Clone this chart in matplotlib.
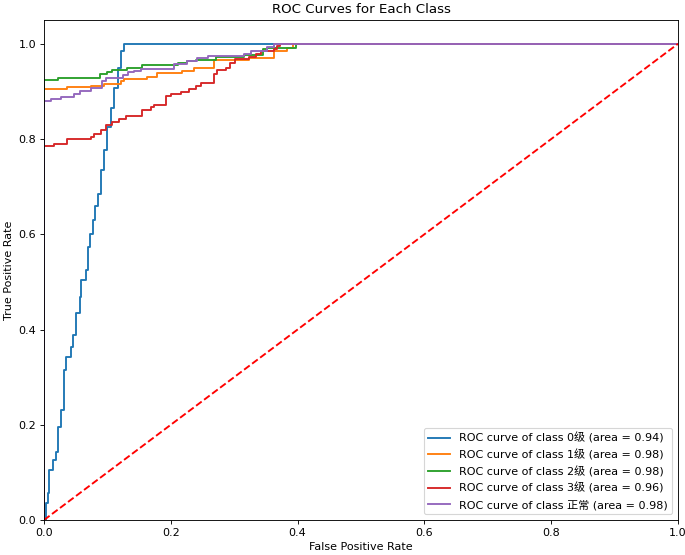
import matplotlib
matplotlib.use("Agg")
import matplotlib.pyplot as plt

plt.rcParams["font.family"] = ["DejaVu Sans", "Noto Sans CJK SC"]

class_names = ["0级", "1级", "2级", "3级", "正常"]
aucs = [0.94, 0.98, 0.98, 0.96, 0.98]
colors = ["#1f77b4", "#ff7f0e", "#2ca02c", "#d62728", "#9467bd"]

fpr0 = [0.0, 0.003, 0.006, 0.008, 0.014, 0.019, 0.022, 0.027, 0.032, 0.035, 0.043, 0.045, 0.050,
        0.056, 0.059, 0.066, 0.069, 0.073, 0.077, 0.081, 0.085, 0.090, 0.095, 0.100, 0.106, 0.111,
        0.116, 0.121, 0.126, 1.0]
tpr0 = [0.0, 0.036, 0.057, 0.105, 0.126, 0.143, 0.196, 0.230, 0.314, 0.342, 0.363, 0.388, 0.434,
        0.468, 0.503, 0.524, 0.573, 0.600, 0.629, 0.660, 0.685, 0.734, 0.776, 0.825, 0.866, 0.908,
        0.950, 0.985, 1.0, 1.0]

fpr1 = [0.0, 0.0, 0.037, 0.074, 0.095, 0.121, 0.126, 0.163, 0.179, 0.218, 0.237, 0.268, 0.323,
        0.362, 0.384, 0.392, 1.0]
tpr1 = [0.0, 0.905, 0.910, 0.912, 0.915, 0.922, 0.926, 0.931, 0.938, 0.943, 0.949, 0.966, 0.970,
        0.985, 0.992, 1.0, 1.0]

fpr2 = [0.0, 0.0, 0.022, 0.089, 0.100, 0.108, 0.131, 0.155, 0.211, 0.226, 0.239, 0.271, 0.315,
        0.346, 0.352, 0.397, 1.0]
tpr2 = [0.0, 0.925, 0.929, 0.936, 0.940, 0.945, 0.949, 0.955, 0.960, 0.964, 0.966, 0.973, 0.977,
        0.989, 0.991, 1.0, 1.0]

fpr3 = [0.0, 0.0, 0.016, 0.037, 0.074, 0.079, 0.090, 0.098, 0.108, 0.119, 0.129, 0.155, 0.169,
        0.174, 0.192, 0.200, 0.216, 0.229, 0.239, 0.247, 0.268, 0.273, 0.287, 0.294, 0.302, 0.323,
        0.334, 0.342, 0.363, 0.368, 0.373, 1.0]
tpr3 = [0.0, 0.785, 0.790, 0.800, 0.805, 0.811, 0.818, 0.830, 0.835, 0.842, 0.849, 0.860, 0.868,
        0.872, 0.890, 0.894, 0.899, 0.905, 0.912, 0.917, 0.936, 0.945, 0.950, 0.960, 0.968, 0.973,
        0.978, 0.984, 0.989, 0.996, 1.0, 1.0]

fpr4 = [0.0, 0.0, 0.011, 0.027, 0.048, 0.056, 0.074, 0.092, 0.098, 0.124, 0.132, 0.142, 0.153,
        0.205, 0.226, 0.242, 0.258, 0.315, 0.326, 0.352, 0.363, 1.0]
tpr4 = [0.0, 0.879, 0.884, 0.889, 0.894, 0.901, 0.908, 0.922, 0.929, 0.935, 0.940, 0.943, 0.948,
        0.957, 0.964, 0.971, 0.975, 0.978, 0.984, 0.994, 1.0, 1.0]

fprs = [fpr0, fpr1, fpr2, fpr3, fpr4]
tprs = [tpr0, tpr1, tpr2, tpr3, tpr4]

DPI = 80
fig, ax = plt.subplots(figsize=(685 / DPI, 555 / DPI), dpi=DPI)
fig.subplots_adjust(left=44 / 685, right=678 / 685, top=1 - 20 / 555, bottom=1 - 520 / 555)

for i in range(5):
    ax.plot(fprs[i], tprs[i], color=colors[i], lw=1.7, drawstyle="steps-post",
            label=f"ROC curve of class {class_names[i]} (area = {aucs[i]:.2f})")

ax.plot([0, 1], [0, 1], "r--", lw=1.7)
ax.set_xlim(0.0, 1.0)
ax.set_ylim(0.0, 1.05)
ax.set_xlabel("False Positive Rate")
ax.set_ylabel("True Positive Rate")
ax.set_title("ROC Curves for Each Class")
ax.legend(loc="lower right")

fig.savefig("out.png", dpi=DPI)
